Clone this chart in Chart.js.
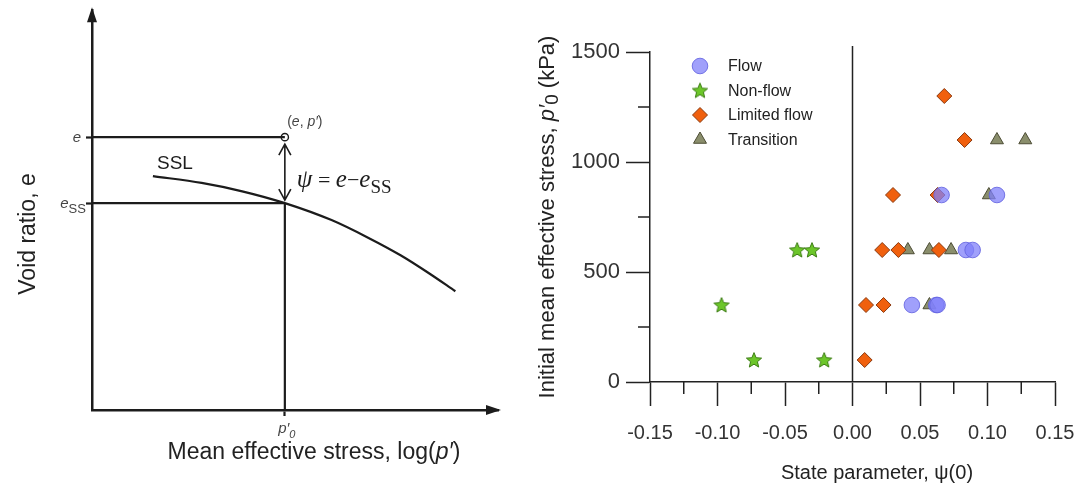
<!DOCTYPE html>
<html lang="en">
<head>
<meta charset="UTF-8">
<title>State parameter</title>
<script src="https://cdn.jsdelivr.net/npm/chart.js@4/dist/chart.umd.min.js"></script>
<style>
  html, body { margin: 0; padding: 0; background: #fff; }
  #wrap { position: relative; width: 1083px; height: 486px; }
  .box { position: absolute; top: 0; height: 486px; }
</style>
</head>
<body>
<div id="wrap">
  <div class="box" style="left:0;width:505px"><canvas id="schem"></canvas></div>
  <div class="box" style="left:505px;width:578px"><canvas id="scatter"></canvas></div>
</div>
<script>
// ---- left panel: schematic e - log(p') plane (arbitrary units 0..10)
const sslX = [1.5, 2.7, 3.7, 4.75, 5.9, 6.8, 7.6, 8.3, 8.95];
const sslY = [5.85, 5.68, 5.47, 5.175, 4.75, 4.31, 3.87, 3.42, 2.97];
const eVal = 6.825;
const eSsVal = 5.175;
const p0Val = 4.75;

// ---- right panel: state parameter psi(0) vs initial p'0 (kPa)
const seriesNames = ['Flow', 'Non-flow', 'Limited flow', 'Transition'];
const flowPsi = [0.066, 0.107, 0.084, 0.089, 0.044, 0.062, 0.063];
const flowP = [850, 850, 600, 600, 350, 350, 350];
const nonFlowPsi = [-0.041, -0.030, -0.097, -0.073, -0.021];
const nonFlowP = [600, 600, 350, 100, 100];
const limitedPsi = [0.068, 0.083, 0.030, 0.063, 0.022, 0.034, 0.064, 0.010, 0.023, 0.009];
const limitedP = [1300, 1100, 850, 850, 600, 600, 600, 350, 350, 100];
const transPsi = [0.107, 0.128, 0.101, 0.041, 0.057, 0.073, 0.057];
const transP = [1100, 1100, 850, 600, 600, 600, 350];

const psiMajor = [-0.15, -0.10, -0.05, 0, 0.05, 0.10, 0.15];
const psiMinor = [-0.125, -0.075, -0.025, 0.025, 0.075, 0.125];
const pMajor = [0, 500, 1000, 1500];
const pMinor = [250, 750, 1250];

const SANS = "'Liberation Sans', Arial, sans-serif";
const SERIF = "'Liberation Serif', 'Times New Roman', serif";
const INK = '#1c1c1c';

const pts = (xs, ys) => xs.map((x, i) => ({ x: x, y: ys[i] }));
const isIn = (arr, v) => arr.some(m => Math.abs(m - v) < 1e-9);

// filled five point star used as point style
function starImage(size, fill, stroke) {
  const c = document.createElement('canvas');
  c.width = c.height = size;
  const g = c.getContext('2d');
  const cx = size / 2, cy = size / 2 + 0.6, R = size / 2 - 1, r = R * 0.45;
  g.beginPath();
  for (let i = 0; i < 10; i++) {
    const a = -Math.PI / 2 + i * Math.PI / 5;
    const rr = i % 2 ? r : R;
    g.lineTo(cx + rr * Math.cos(a), cy + rr * Math.sin(a));
  }
  g.closePath();
  g.fillStyle = fill;
  g.fill();
  g.lineWidth = 1;
  g.strokeStyle = stroke;
  g.stroke();
  return c;
}

// draw a run of [text, font, dy] pieces, centred on x
function drawRuns(ctx, runs, x, y, align) {
  let total = 0;
  runs.forEach(r => { ctx.font = r[1]; total += ctx.measureText(r[0]).width; });
  let cx = align === 'left' ? x : x - total / 2;
  ctx.textAlign = 'left';
  ctx.textBaseline = 'alphabetic';
  runs.forEach(r => {
    ctx.font = r[1];
    ctx.fillText(r[0], cx, y + (r[2] || 0));
    cx += ctx.measureText(r[0]).width;
  });
}

// ---------------- left schematic ----------------
const schemDecor = {
  id: 'schemDecor',
  afterDraw(chart) {
    const ctx = chart.ctx;
    const xs = chart.scales.x, ys = chart.scales.y;
    const a = chart.chartArea;
    const xp = xs.getPixelForValue(p0Val);
    const ye = ys.getPixelForValue(eVal);
    const yss = ys.getPixelForValue(eSsVal);
    ctx.save();
    ctx.fillStyle = INK;
    ctx.strokeStyle = INK;
    // axis arrow heads
    ctx.beginPath();
    ctx.moveTo(a.left, a.top - 3);
    ctx.lineTo(a.left - 5, a.top + 12);
    ctx.lineTo(a.left + 5, a.top + 12);
    ctx.closePath();
    ctx.fill();
    ctx.beginPath();
    ctx.moveTo(a.right + 3, a.bottom);
    ctx.lineTo(a.right - 12, a.bottom - 5);
    ctx.lineTo(a.right - 12, a.bottom + 5);
    ctx.closePath();
    ctx.fill();

    // double arrow for psi
    ctx.lineWidth = 1.6;
    const t = ye + 7, b = yss - 3;
    ctx.beginPath();
    ctx.moveTo(xp, t); ctx.lineTo(xp, b);
    ctx.moveTo(xp - 6, t + 11); ctx.lineTo(xp, t); ctx.lineTo(xp + 6, t + 11);
    ctx.moveTo(xp - 6, b - 11); ctx.lineTo(xp, b); ctx.lineTo(xp + 6, b - 11);
    ctx.stroke();

    // tick labels
    ctx.fillStyle = '#444';
    drawRuns(ctx, [['e', 'italic 15px ' + SANS]], a.left - 15, ye + 5);
    drawRuns(ctx, [['e', 'italic 15px ' + SANS], ['SS', '13px ' + SANS, 5]], a.left - 19, yss + 5);
    drawRuns(ctx, [['p\u2032', 'italic 15px ' + SANS], ['0', 'italic 11px ' + SANS, 5]], xp + 2, a.bottom + 23);
    drawRuns(ctx, [['(', '14px ' + SANS], ['e', 'italic 14px ' + SANS], [', ', '14px ' + SANS], ['p\u2032', 'italic 14px ' + SANS], [')', '14px ' + SANS]], xp + 20, ye - 11);

    ctx.fillStyle = INK;
    drawRuns(ctx, [['SSL', '19px ' + SANS]], xs.getPixelForValue(1.6), ys.getPixelForValue(6.02), 'left');
    drawRuns(ctx, [
      ['\u03C8', 'italic 25px ' + SERIF],
      [' = ', '22px ' + SERIF],
      ['e', 'italic 25px ' + SERIF],
      ['\u2212', '22px ' + SERIF],
      ['e', 'italic 25px ' + SERIF],
      ['SS', '19px ' + SERIF, 6]
    ], xp + 12, ye + 50, 'left');

    // axis titles
    ctx.fillStyle = '#222';
    drawRuns(ctx, [['Mean effective stress, log(', '23px ' + SANS], ['p\u2032', 'italic 23px ' + SANS], [')', '23px ' + SANS]], 314, 459);
    ctx.translate(35, 234);
    ctx.rotate(-Math.PI / 2);
    drawRuns(ctx, [['Void ratio, e', '23px ' + SANS]], 0, 0);
    ctx.restore();
  }
};

const lineStyle = { showLine: true, borderColor: INK, borderWidth: 2.2, pointRadius: 0 };
new Chart(document.getElementById('schem'), {
  type: 'scatter',
  data: {
    datasets: [
      Object.assign({ data: pts(sslX, sslY), cubicInterpolationMode: 'monotone' }, lineStyle),
      Object.assign({ data: [{ x: 0, y: eVal }, { x: p0Val, y: eVal }] }, lineStyle),
      Object.assign({ data: [{ x: 0, y: eSsVal }, { x: p0Val, y: eSsVal }] }, lineStyle),
      Object.assign({ data: [{ x: p0Val, y: 0 }, { x: p0Val, y: eSsVal }] }, lineStyle),
      { data: [{ x: p0Val, y: eVal }], pointRadius: 3.6, pointBackgroundColor: '#fff', pointBorderColor: INK, pointBorderWidth: 1.4 }
    ]
  },
  options: {
    responsive: true,
    maintainAspectRatio: false,
    animation: false,
    layout: { padding: { top: 10, right: 7, left: 0, bottom: 0 } },
    plugins: { legend: { display: false }, tooltip: { enabled: false } },
    scales: {
      x: {
        type: 'linear', min: 0, max: 10,
        afterBuildTicks: s => { s.ticks = [{ value: p0Val }]; },
        ticks: { callback: () => '' },
        grid: { drawOnChartArea: false, tickLength: 6, tickColor: INK, tickWidth: 2.2 },
        border: { color: INK, width: 2.5 },
        afterFit: s => { s.height = 76; }
      },
      y: {
        type: 'linear', min: 0, max: 10,
        afterBuildTicks: s => { s.ticks = [{ value: eSsVal }, { value: eVal }]; },
        ticks: { callback: () => '' },
        grid: { drawOnChartArea: false, tickLength: 6, tickColor: INK, tickWidth: 2.2 },
        border: { color: INK, width: 2.5 },
        afterFit: s => { s.width = 92; }
      }
    }
  },
  plugins: [schemDecor]
});

// ---------------- right scatter ----------------
const styles = [
  { pointStyle: 'circle', pointRadius: 7.8, backgroundColor: 'rgba(128,128,250,0.75)', borderColor: 'rgba(100,100,225,0.85)', borderWidth: 1 },
  { pointStyle: starImage(18, '#6cc62a', '#3c7c14'), pointRadius: 8, backgroundColor: '#6cc62a', borderColor: '#3c7c14', borderWidth: 1 },
  { pointStyle: 'rectRot', pointRadius: 7.5, backgroundColor: '#f0600e', borderColor: '#8a3a10', borderWidth: 1 },
  { pointStyle: 'triangle', pointRadius: 7.5, backgroundColor: '#8a8e6c', borderColor: '#4c4c34', borderWidth: 1 }
];
const seriesData = [pts(flowPsi, flowP), pts(nonFlowPsi, nonFlowP), pts(limitedPsi, limitedP), pts(transPsi, transP)];

const scatterDecor = {
  id: 'scatterDecor',
  afterDraw(chart) {
    const ctx = chart.ctx;
    const xs = chart.scales.x, ys = chart.scales.y;
    const a = chart.chartArea;
    ctx.save();
    ctx.strokeStyle = '#222';
    ctx.lineWidth = 1.5;
    // minor ticks
    ctx.beginPath();
    psiMinor.forEach(v => { const x = xs.getPixelForValue(v); ctx.moveTo(x, a.bottom); ctx.lineTo(x, a.bottom + 12); });
    pMinor.forEach(v => { const y = ys.getPixelForValue(v); ctx.moveTo(a.left, y); ctx.lineTo(a.left - 12, y); });
    // psi = 0 line
    const x0 = xs.getPixelForValue(0);
    ctx.moveTo(x0, a.top - 6);
    ctx.lineTo(x0, a.bottom);
    ctx.stroke();

    // legend
    const Lx = 195, L0 = 66, Ld = 24.5;
    chart.data.datasets.forEach((d, i) => {
      const y = L0 + i * Ld;
      ctx.fillStyle = d.backgroundColor;
      ctx.strokeStyle = d.borderColor;
      ctx.lineWidth = d.borderWidth;
      Chart.helpers.drawPoint(ctx, { pointStyle: d.pointStyle, radius: d.pointRadius, rotation: 0, borderWidth: d.borderWidth }, Lx, y);
      ctx.fillStyle = '#222';
      ctx.font = '16px ' + SANS;
      ctx.textAlign = 'left';
      ctx.textBaseline = 'middle';
      ctx.fillText(d.label, Lx + 28, y + 1);
    });

    // axis titles
    ctx.fillStyle = '#222';
    drawRuns(ctx, [['State parameter, \u03C8(0)', '20px ' + SANS]], 372, 479);
    ctx.translate(49, (a.top + a.bottom) / 2);
    ctx.rotate(-Math.PI / 2);
    drawRuns(ctx, [
      ['Initial mean effective stress, ', '22px ' + SANS],
      ['p\u2032', 'italic 22px ' + SANS],
      ['0', '19px ' + SANS, 4],
      [' (kPa)', '22px ' + SANS]
    ], 0, 0);
    ctx.restore();
  }
};

new Chart(document.getElementById('scatter'), {
  type: 'scatter',
  data: {
    datasets: seriesNames.map((name, i) => Object.assign({ label: name, data: seriesData[i], pointHoverRadius: styles[i].pointRadius }, styles[i]))
  },
  options: {
    responsive: true,
    maintainAspectRatio: false,
    animation: false,
    layout: { padding: { top: 52, right: 28, left: 0, bottom: 0 } },
    plugins: { legend: { display: false }, tooltip: { enabled: false } },
    scales: {
      x: {
        type: 'linear', min: -0.15, max: 0.15,
        afterBuildTicks: s => { s.ticks = psiMajor.concat(psiMinor).sort((p, q) => p - q).map(v => ({ value: v })); },
        ticks: {
          autoSkip: false, maxRotation: 0, padding: 15, color: '#333',
          font: { family: SANS, size: 20 },
          callback: v => isIn(psiMajor, v) ? v.toFixed(2) : ''
        },
        grid: { drawOnChartArea: false, tickLength: 24, tickWidth: 1.5, tickColor: c => isIn(psiMajor, c.tick.value) ? '#222' : 'rgba(0,0,0,0)' },
        border: { color: '#222', width: 1.5 },
        afterFit: s => { s.height = 104; s.paddingLeft = 0; s.paddingRight = 0; }
      },
      y: {
        type: 'linear', min: 0, max: 1500,
        afterBuildTicks: s => { s.ticks = pMajor.concat(pMinor).sort((p, q) => p - q).map(v => ({ value: v })); },
        ticks: {
          autoSkip: false, padding: 6, color: '#333',
          font: { family: SANS, size: 22 },
          callback: v => isIn(pMajor, v) ? String(v) : ''
        },
        grid: { drawOnChartArea: false, tickLength: 24, tickWidth: 1.5, tickColor: c => isIn(pMajor, c.tick.value) ? '#222' : 'rgba(0,0,0,0)' },
        border: { color: '#222', width: 1.5 },
        afterFit: s => { s.width = 145; s.paddingTop = 0; s.paddingBottom = 0; }
      }
    }
  },
  plugins: [scatterDecor]
});
</script>
</body>
</html>
